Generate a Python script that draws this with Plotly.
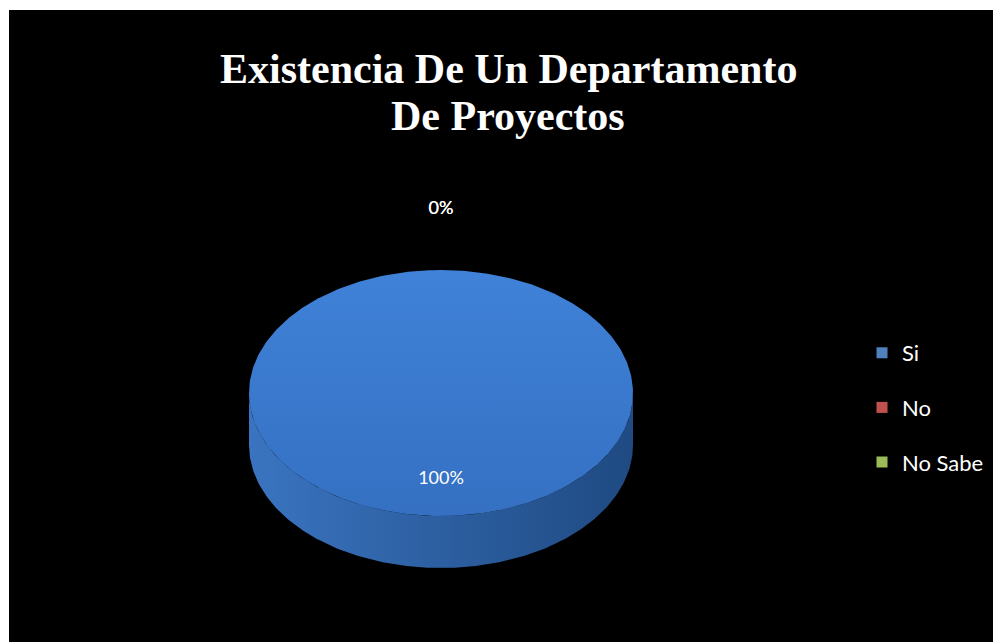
import numpy as np
import plotly.graph_objects as go

# ---- data ----
categories = ["Si", "No", "No Sabe"]
values = [100, 0, 0]
label_texts = ["100%", "0%", "0%"]
title_lines = ["Existencia De Un Departamento", "De Proyectos"]

# ---- style ----
W, H = 993, 642
CX, CY, RX, RY, DEPTH = 441, 393, 192, 123, 52
top_grad = {"Si": ["#3f82d8", "#3570c2"], "No": ["#d0605c", "#a8403d"], "No Sabe": ["#a9c96a", "#87a548"]}
side_grad = {"Si": ["#3a74c0", "#1f4a82"], "No": ["#b04744", "#7a2c2a"], "No Sabe": ["#8aa84f", "#5f7634"]}
legend_colors = ["#4f81bd", "#c0504d", "#9bbb59"]

fig = go.Figure()

def pt(theta, dy=0.0, f=1.0):
    return CX + f * RX * np.sin(theta), CY - f * RY * np.cos(theta) + dy

total = sum(values)
cum = 0.0
label_pos = []
for cat, v in zip(categories, values):
    a0 = 2 * np.pi * cum / total
    a1 = 2 * np.pi * (cum + v) / total
    cum += v
    mid = (a0 + a1) / 2
    if v > 0:
        # side (visible front half: pi/2 .. 3pi/2)
        s0, s1 = max(a0, np.pi / 2), min(a1, 3 * np.pi / 2)
        if s1 > s0:
            th = np.linspace(s0, s1, 200)
            xt, yt = pt(th)
            xb, yb = pt(th[::-1], DEPTH)
            fig.add_trace(go.Scatter(
                x=np.concatenate([xt, xb]), y=np.concatenate([yt, yb]),
                mode="lines", fill="toself", line=dict(width=0),
                fillgradient=dict(type="horizontal",
                                  colorscale=[[0, side_grad[cat][0]], [1, side_grad[cat][1]]]),
                hoverinfo="skip", showlegend=False))
        th = np.linspace(a0, a1, 400)
        xs, ys = pt(th)
        if v < total:
            xs = np.concatenate([[CX], xs, [CX]])
            ys = np.concatenate([[CY], ys, [CY]])
        fig.add_trace(go.Scatter(
            x=xs, y=ys, mode="lines", fill="toself", line=dict(width=0),
            fillgradient=dict(type="vertical",
                              colorscale=[[0, top_grad[cat][1]], [1, top_grad[cat][0]]]),
            hoverinfo="skip", showlegend=False))
        lx, ly = pt(mid if v < total else np.pi, f=0.7)
    else:
        lx, ly = pt(mid, f=1.49)
    label_pos.append((lx, ly))

fig.add_trace(go.Scatter(
    x=[p[0] for p in label_pos], y=[p[1] for p in label_pos],
    mode="text", text=label_texts,
    textfont=dict(family="Lato, Noto Sans, sans-serif", size=18, color="white"),
    hoverinfo="skip", showlegend=False))

for i, (cat, col) in enumerate(zip(categories, legend_colors)):
    fig.add_trace(go.Scatter(
        x=[None], y=[None], mode="markers", name=cat, legendgroup=cat,
        marker=dict(symbol="square", size=11, color=col)))

title_font = dict(family="Liberation Serif, Times New Roman, serif", size=42, color="white")
annotations = [
    dict(text=f"<b>{t}</b>", xref="x", yref="y", x=508, y=yc, showarrow=False,
         xanchor="center", yanchor="middle", font=title_font)
    for t, yc in zip(title_lines, [69, 116])
]

fig.update_layout(
    width=W, height=H, margin=dict(l=0, r=0, t=0, b=0),
    paper_bgcolor="white", plot_bgcolor="rgba(0,0,0,0)",
    xaxis=dict(range=[0, W], visible=False, fixedrange=True),
    yaxis=dict(range=[H, 0], visible=False, fixedrange=True),
    shapes=[dict(type="rect", xref="x", yref="y", x0=9, x1=W, y0=10, y1=H,
                 fillcolor="black", line=dict(width=0), layer="below")],
    annotations=annotations,
    legend=dict(x=862 / W, xanchor="left", y=1 - 332 / H, yanchor="top",
                bgcolor="rgba(0,0,0,0)", font=dict(family="Lato, Noto Sans, sans-serif", size=22, color="white"),
                tracegroupgap=23, itemwidth=30, traceorder="grouped"),
    showlegend=True,
)

fig.write_html("out.html")
